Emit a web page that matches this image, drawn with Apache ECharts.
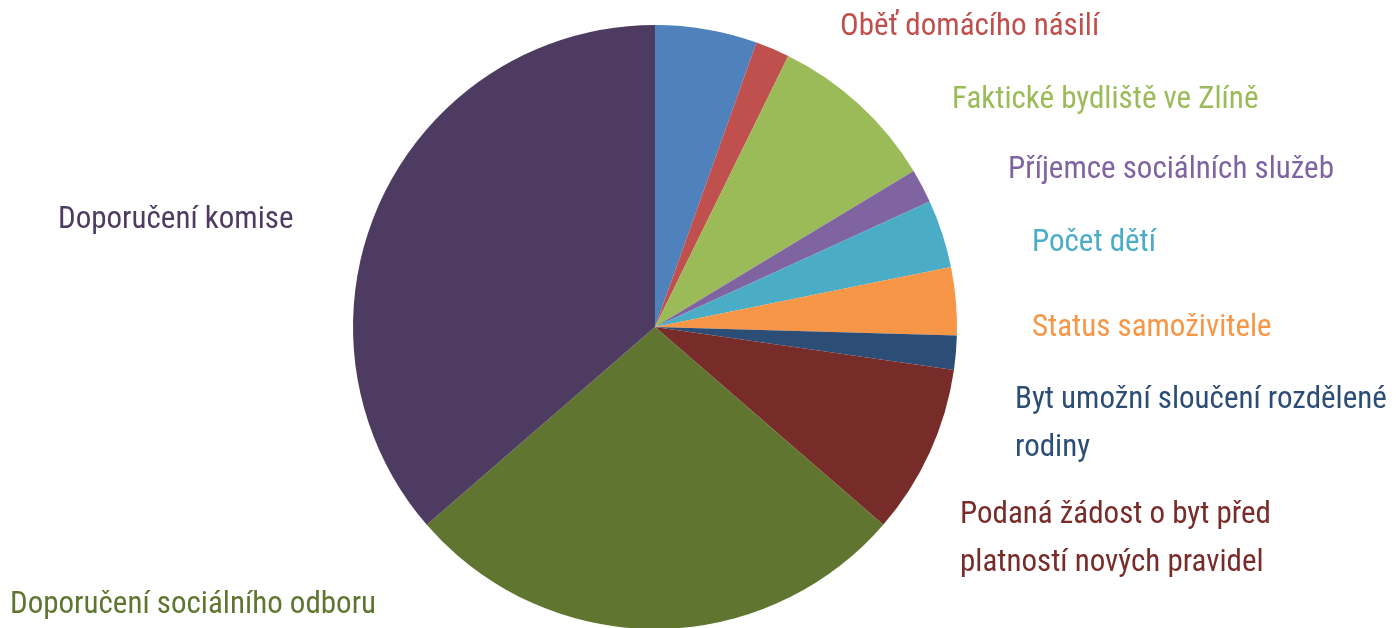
<!DOCTYPE html>
<html>
<head>
<meta charset="utf-8">
<script src="https://cdn.jsdelivr.net/npm/echarts@6/dist/echarts.min.js"></script>
<style>
  html, body { margin: 0; padding: 0; background: #fff; }
  #chart { width: 1396px; height: 628px; }
</style>
</head>
<body>
<div id="chart"></div>
<script>
// categories, clockwise from 12 o'clock
const categories = [
  "",
  "Oběť domácího násilí",
  "Faktické bydliště ve Zlíně",
  "Příjemce sociálních služeb",
  "Počet dětí",
  "Status samoživitele",
  "Byt umožní sloučení rozdělené\nrodiny",
  "Podaná žádost o byt před\nplatností nových pravidel",
  "Doporučení sociálního odboru",
  "Doporučení komise"
];
const counts = [3, 1, 5, 1, 2, 2, 1, 5, 15, 20];
const colors = ["#4f81bd", "#c0504d", "#9bbb59", "#8064a2", "#4bacc6",
                "#f79646", "#2c4d75", "#772c2a", "#5f7530", "#4d3b62"];

// where each label sits (left edge, vertical middle of first line)
const labelSpots = [
  null, [840, 27], [952, 100], [1008, 170], [1032, 243],
  [1032, 328], [1015, 400], [960, 515], [10, 605], [58, 220]
];

const chart = echarts.init(document.getElementById("chart"));

chart.setOption({
  animation: false,
  series: [{
    type: "pie",
    center: [655, 327],
    radius: 302,
    startAngle: 90,
    clockwise: true,
    avoidLabelOverlap: false,
    itemStyle: { borderWidth: 0 },
    emphasis: { disabled: true },
    labelLine: { show: false },
    label: {
      show: true,
      position: "outside",
      formatter: "{b}",
      fontFamily: "'Roboto Condensed', 'Liberation Sans Narrow', 'DejaVu Sans Condensed', sans-serif",
      fontSize: 31,
      lineHeight: 48
    },
    labelLayout: function (p) {
      const spot = labelSpots[p.dataIndex];
      if (!spot) return {};
      return {
        x: spot[0],
        y: spot[1] - 24,
        align: "left",
        verticalAlign: "top"
      };
    },
    data: categories.map((name, i) => ({
      name: name,
      value: counts[i],
      itemStyle: { color: colors[i] },
      label: { show: name !== "", color: colors[i] }
    }))
  }]
});
</script>
</body>
</html>
